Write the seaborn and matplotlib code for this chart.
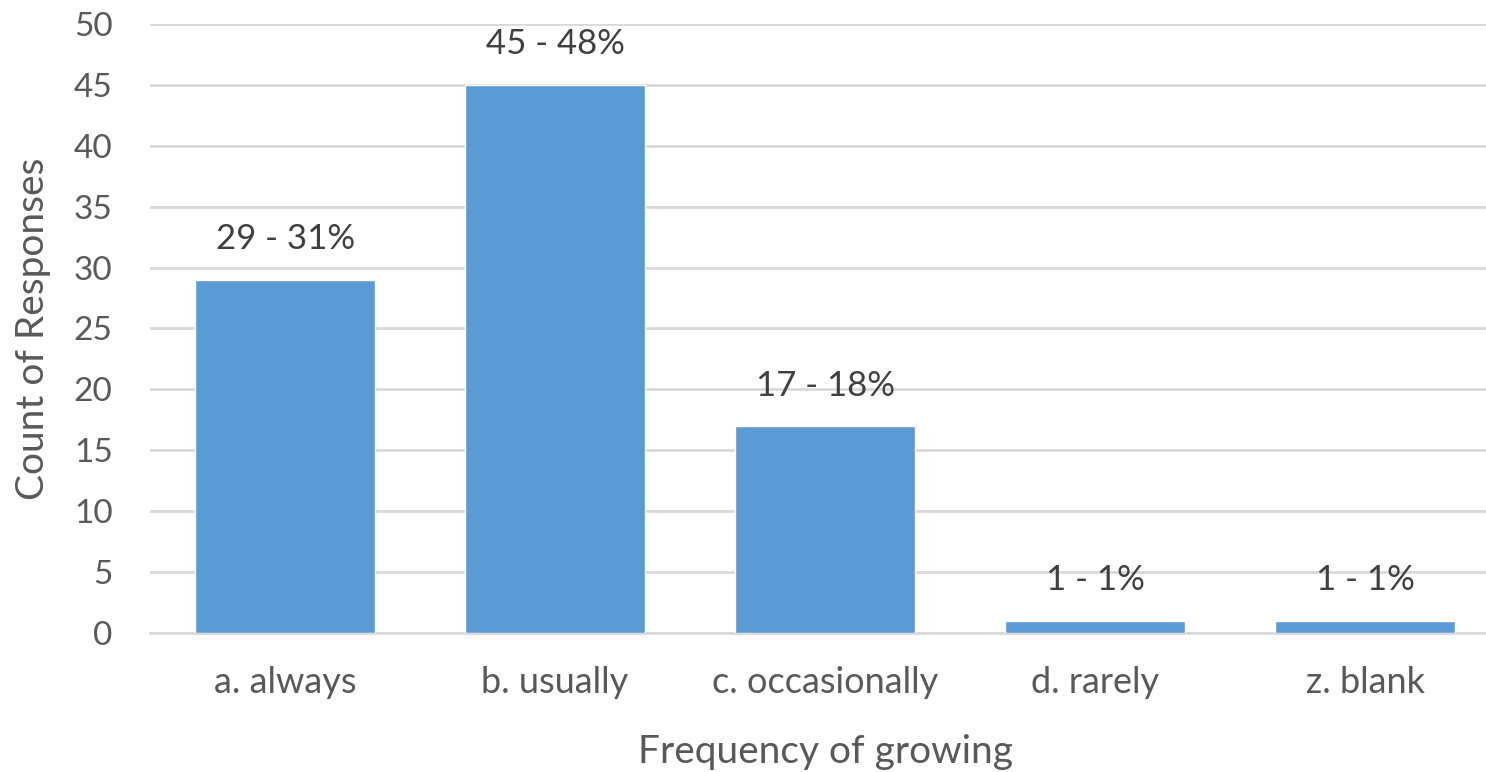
import matplotlib
matplotlib.use("Agg")
import matplotlib.pyplot as plt
import seaborn as sns
import pandas as pd

categories = ["a. always", "b. usually", "c. occasionally", "d. rarely", "z. blank"]
counts = [29, 45, 17, 1, 1]
percents = [31, 48, 18, 1, 1]

df = pd.DataFrame({"Frequency": categories, "Count": counts})

sns.set_style("white")
plt.rcParams["font.family"] = ["Lato", "DejaVu Sans"]

fig = plt.figure(figsize=(14.86, 7.72), dpi=100)
ax = fig.add_axes([0.101, 0.18, 0.9085, 0.789])

sns.barplot(
    data=df,
    x="Frequency",
    y="Count",
    color="#5B9BD5",
    saturation=1,
    width=0.667,
    ax=ax,
    zorder=3
)

for i, (c, p) in enumerate(zip(counts, percents)):
    ax.text(i, c + 2.0, f"{c} - {p}%", ha="center", va="bottom",
            fontsize=25, color="#404040")

ax.set_ylim(0, 50)
ax.set_xlim(-0.5, 4.5)
ax.set_yticks(range(0, 51, 5))
ax.yaxis.grid(True, color="#D9D9D9", linewidth=2, zorder=0)
ax.set_axisbelow(True)
for s in ["top", "right", "left"]:
    ax.spines[s].set_visible(False)
ax.spines["bottom"].set_color("#D9D9D9")
ax.spines["bottom"].set_linewidth(2)

ax.tick_params(axis="x", labelsize=26, colors="#595959", length=0, pad=24)
ax.tick_params(axis="y", labelsize=24, colors="#595959", length=0, pad=27)
ax.set_xlabel("Frequency of growing", fontsize=28, color="#595959", labelpad=25)
ax.set_ylabel("Count of Responses", fontsize=28, color="#595959", labelpad=16)

fig.savefig("out.png", dpi=100)
